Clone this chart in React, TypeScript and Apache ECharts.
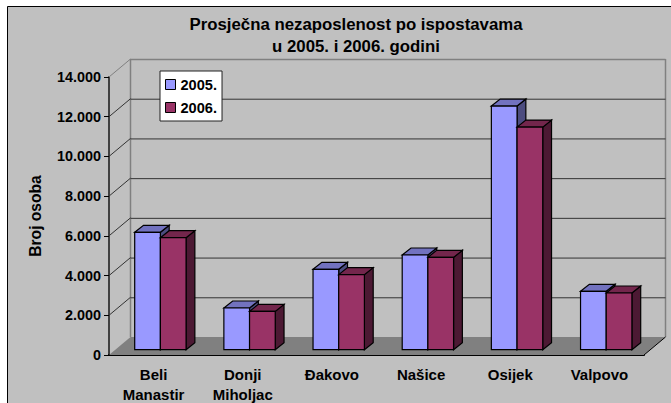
import React, { useEffect, useRef } from "react";
import * as echarts from "echarts";

const titleText = "Prosječna nezaposlenost po ispostavama\nu 2005. i 2006. godini";
const yAxisName = "Broj osoba";
const categories = ["Beli\nManastir", "Donji\nMiholjac", "Đakovo", "Našice", "Osijek", "Valpovo"];
const values2005 = [5910, 2100, 4050, 4770, 12270, 2940];
const values2006 = [5640, 1930, 3780, 4650, 11210, 2855];
const yTicks = [0, 2000, 4000, 6000, 8000, 10000, 12000, 14000];
const FONT = "Liberation Sans";

const DEPTH_X = 21.5;
const DEPTH_Y = 18;
const BAR_SHIFT_X = 6.8;
const BAR_SHIFT_Y = 5.3;
const BAR_DX = 8.8;
const BAR_DY = 7;

function barSeries(name: string, values: number[], side: number, front: string, top: string, right: string) {
  return {
    type: "custom",
    name,
    silent: true,
    z: 5,
    clip: false,
    itemStyle: { color: front },
    encode: { x: 0, y: 1 },
    data: values.map((v, i) => [i, v]),
    renderItem: (_p: any, api: any) => {
      const cat = api.value(0);
      const base = api.coord([cat, 0]);
      const peak = api.coord([cat, api.value(1)]);
      const w = api.size([1, 0])[0] * 0.288;
      const x0 = base[0] + BAR_SHIFT_X + (side === 0 ? -w : 0);
      const x1 = x0 + w;
      const yb = base[1] - BAR_SHIFT_Y;
      const yt = peak[1] - BAR_SHIFT_Y;
      const line = { stroke: "#000", lineWidth: 1.2, lineJoin: "miter" };
      return {
        type: "group",
        children: [
          {
            type: "polygon",
            shape: { points: [[x1, yb], [x1 + BAR_DX, yb - BAR_DY], [x1 + BAR_DX, yt - BAR_DY], [x1, yt]] },
            style: { fill: right, ...line },
          },
          {
            type: "polygon",
            shape: { points: [[x0, yt], [x0 + BAR_DX, yt - BAR_DY], [x1 + BAR_DX, yt - BAR_DY], [x1, yt]] },
            style: { fill: top, ...line },
          },
          {
            type: "rect",
            shape: { x: x0, y: yt, width: w, height: yb - yt },
            style: { fill: front, ...line },
          },
        ],
      };
    },
  };
}

const frameSeries = {
  type: "custom",
  name: "frame",
  silent: true,
  z: 1,
  clip: false,
  encode: { y: 0 },
  data: yTicks.map((v) => [v]),
  renderItem: (params: any, api: any) => {
    const v = api.value(0);
    const cs = params.coordSys;
    const left = cs.x;
    const right = cs.x + cs.width;
    const y = api.coord([0, v])[1];
    const grey = "#808080";
    const dark = "#333333";
    const isTop = v === 14000;
    const color = isTop ? grey : dark;
    const children: any[] = [];
    if (v === 0) {
      const top = cs.y;
      children.push(
        {
          type: "polygon",
          shape: { points: [[left, y], [left + DEPTH_X, y - DEPTH_Y], [right + DEPTH_X, y - DEPTH_Y], [right, y]] },
          style: { fill: grey, stroke: "none" },
        },
        {
          type: "line",
          shape: { x1: left + DEPTH_X, y1: y - DEPTH_Y, x2: left + DEPTH_X, y2: top - DEPTH_Y },
          style: { stroke: grey, lineWidth: 1.5 },
        },
        {
          type: "line",
          shape: { x1: right + DEPTH_X, y1: y - DEPTH_Y, x2: right + DEPTH_X, y2: top - DEPTH_Y },
          style: { stroke: grey, lineWidth: 1.5 },
        },
        {
          type: "line",
          shape: { x1: right, y1: y, x2: right + DEPTH_X, y2: y - DEPTH_Y },
          style: { stroke: "#000", lineWidth: 1 },
        },
      );
    } else {
      children.push(
        {
          type: "line",
          shape: { x1: left, y1: y, x2: left + DEPTH_X, y2: y - DEPTH_Y },
          style: { stroke: color, lineWidth: 1 },
        },
        {
          type: "line",
          shape: { x1: left + DEPTH_X, y1: y - DEPTH_Y + 0.5, x2: right + DEPTH_X, y2: y - DEPTH_Y + 0.5 },
          style: { stroke: color, lineWidth: isTop ? 1.5 : 1 },
        },
      );
    }
    return { type: "group", children };
  },
};

export default function App() {
  const ref = useRef<HTMLDivElement>(null);
  useEffect(() => {
    document.body.style.margin = "0";
    document.body.style.background = "#fff";
    const chart = echarts.init(ref.current!, undefined, { renderer: "svg" });
    chart.setOption({
      animation: false,
      backgroundColor: "#ffffff",
      textStyle: { fontFamily: FONT },
      title: {
        text: titleText,
        left: 351,
        top: 9,
        textAlign: "center",
        textStyle: { fontFamily: FONT, fontSize: 16.8, fontWeight: "bold", color: "#000", lineHeight: 21.5 },
      },
      graphic: [
        {
          type: "rect",
          z: -10,
          silent: true,
          shape: { x: 7.5, y: 6.5, width: 664, height: 397 },
          style: { fill: "#C0C0C0", stroke: "#000", lineWidth: 1 },
        },
      ],
      legend: {
        left: 160,
        top: 71,
        orient: "vertical",
        backgroundColor: "#ffffff",
        borderColor: "#222222",
        borderWidth: 1,
        borderRadius: 0,
        padding: [6, 5, 6, 5],
        itemWidth: 10,
        itemHeight: 10,
        itemGap: 8,
        selectedMode: false,
        textStyle: { fontFamily: FONT, fontSize: 14.6, fontWeight: "bold", color: "#000" },
        data: [
          { name: "2005.", icon: "rect", itemStyle: { color: "#9999FF", borderColor: "#000", borderWidth: 1 } },
          { name: "2006.", icon: "rect", itemStyle: { color: "#993366", borderColor: "#000", borderWidth: 1 } },
        ],
      },
      grid: { left: 109, right: 27, top: 77, bottom: 48, outerBoundsMode: "none" },
      xAxis: {
        type: "category",
        data: categories,
        boundaryGap: true,
        axisLine: { lineStyle: { color: "#000", width: 2 } },
        axisTick: { length: 5, lineStyle: { color: "#000", width: 1 } },
        axisLabel: {
          interval: 0,
          margin: 9,
          lineHeight: 20,
          fontFamily: FONT,
          fontSize: 15,
          fontWeight: "bold",
          color: "#000",
        },
        splitLine: { show: false },
      },
      yAxis: {
        type: "value",
        min: 0,
        max: 14000,
        interval: 2000,
        name: yAxisName,
        nameLocation: "middle",
        nameGap: 66,
        nameTextStyle: { fontFamily: FONT, fontSize: 15.6, fontWeight: "bold", color: "#000" },
        axisLine: { show: true, lineStyle: { color: "#404040", width: 2 } },
        axisTick: { show: true, length: 5, lineStyle: { color: "#000", width: 1 } },
        axisLabel: {
          margin: 8,
          fontFamily: FONT,
          fontSize: 14.4,
          fontWeight: "bold",
          color: "#000",
          formatter: (v: number) =>
            v === 0 ? "0" : `${Math.floor(v / 1000)}.${String(v % 1000).padStart(3, "0")}`,
        },
        splitLine: { show: false },
      },
      series: [
        frameSeries,
        barSeries("2005.", values2005, 0, "#9999FF", "#7272BF", "#4C4C7F"),
        barSeries("2006.", values2006, 1, "#993366", "#73264C", "#4C1933"),
      ],
    });
    return () => chart.dispose();
  }, []);
  return <div ref={ref} style={{ width: 671, height: 403, overflow: "hidden" }} />;
}
